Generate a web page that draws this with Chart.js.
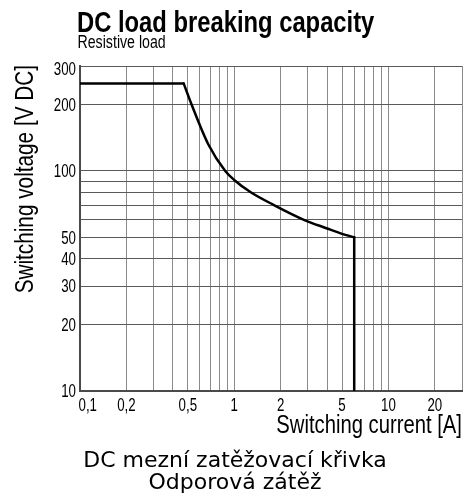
<!DOCTYPE html>
<html>
<head>
<meta charset="utf-8">
<script src="https://cdn.jsdelivr.net/npm/chart.js@4/dist/chart.umd.min.js"></script>
<style>
  html, body { margin: 0; padding: 0; background: #fff; }
  #wrap { position: relative; width: 470px; height: 504px; }
  canvas { display: block; }
</style>
</head>
<body>
<div id="wrap"><canvas id="c" width="470" height="504"></canvas></div>
<script>
// ---- data ----
const flatCurrent = [0.1, 0.47];
const flatVoltage = [250, 250];
const curveCurrent = [0.47, 0.53, 0.68, 0.875, 1.0, 1.28, 1.81, 2.83, 4, 5, 6];
const curveVoltage = [250, 200, 132, 100, 91, 80, 70, 60, 54.8, 51.8, 50];
const dropCurrent = [6, 6];
const dropVoltage = [50, 10];

// grid (tick) positions of the log axes
const xGridValues = [0.1, 0.2, 0.3, 0.4, 0.5, 0.6, 0.7, 0.8, 0.9, 1, 2, 3, 4, 5, 6, 7, 8, 9, 10, 20, 30];
const yGridValues = [10, 20, 30, 40, 50, 60, 70, 80, 90, 100, 200, 300];

const xTickValues = [0.1, 0.2, 0.5, 1, 2, 5, 10, 20];
const xTickTexts = ['0,1', '0,2', '0,5', '1', '2', '5', '10', '20'];
const yTickValues = [10, 20, 30, 40, 50, 100, 200, 300];
const yTickTexts = ['10', '20', '30', '40', '50', '100', '200', '300'];

const titleText = 'DC load breaking capacity';
const subtitleText = 'Resistive load';
const xAxisTitle = 'Switching current [A]';
const yAxisTitle = 'Switching voltage [V DC]';
const caption1 = 'DC mezní zatěžovací křivka';
const caption2 = 'Odporová zátěž';

const SANS = "'Liberation Sans', Arial, sans-serif";

function toPoints(xs, ys) { return xs.map((x, i) => ({ x: x, y: ys[i] })); }

// draw text horizontally condensed by factor sx
function narrowText(ctx, text, x, y, font, sx, align, rot) {
  ctx.save();
  ctx.font = font;
  ctx.textBaseline = 'alphabetic';
  ctx.textAlign = align;
  ctx.translate(x, y);
  if (rot) ctx.rotate(rot);
  ctx.scale(sx, 1);
  ctx.fillText(text, 0, 0);
  ctx.restore();
}

const textPlugin = {
  id: 'texts',
  afterDraw(chart) {
    const ctx = chart.ctx;
    const xs = chart.scales.x, ys = chart.scales.y;
    const area = chart.chartArea;
    ctx.save();
    ctx.fillStyle = '#000';
    // headline
    narrowText(ctx, titleText, 77, 31.5, 'bold 29px ' + SANS, 0.82, 'left');
    narrowText(ctx, subtitleText, 77.5, 47.5, '17.5px ' + SANS, 0.81, 'left');
    // x tick labels
    const tickFont = '17.5px ' + SANS;
    xTickValues.forEach((v, i) => {
      const px = xs.getPixelForValue(v);
      const atStart = Math.abs(v - xs.min) < 1e-9;
      narrowText(ctx, xTickTexts[i], atStart ? px - 1.5 : px, area.bottom + 20, tickFont, 0.76, atStart ? 'left' : 'center');
    });
    // y tick labels
    yTickValues.forEach((v, i) => {
      const py = ys.getPixelForValue(v);
      const base = Math.max(py + 6.3, area.top + 9);
      narrowText(ctx, yTickTexts[i], area.left - 4, base, tickFont, 0.76, 'right');
    });
    // axis titles
    narrowText(ctx, xAxisTitle, area.right, 432.7, '25px ' + SANS, 0.81, 'right');
    narrowText(ctx, yAxisTitle, 33, area.top - 1, '25px ' + SANS, 0.83, 'right', -Math.PI / 2);
    // captions
    ctx.textAlign = 'center';
    ctx.textBaseline = 'alphabetic';
    ctx.font = "22px 'DejaVu Sans', sans-serif";
    ctx.fillText(caption1, 235, 466.5);
    ctx.fillText(caption2, 235, 488.5);
    ctx.restore();
  }
};

const lineStyle = {
  borderColor: '#000',
  borderWidth: 2.5,
  pointRadius: 0,
  fill: false,
  borderCapStyle: 'round',
  borderJoinStyle: 'round'
};

new Chart(document.getElementById('c'), {
  type: 'line',
  data: {
    datasets: [
      Object.assign({ data: toPoints(flatCurrent, flatVoltage), tension: 0 }, lineStyle),
      Object.assign({ data: toPoints(curveCurrent, curveVoltage), cubicInterpolationMode: 'monotone' }, lineStyle),
      Object.assign({ data: toPoints(dropCurrent, dropVoltage), tension: 0, borderWidth: 3 }, lineStyle)
    ]
  },
  options: {
    responsive: false,
    animation: false,
    devicePixelRatio: 1,
    layout: { padding: { top: 66, right: 8, bottom: 65, left: 0 } },
    plugins: { legend: { display: false }, tooltip: { enabled: false } },
    scales: {
      x: {
        type: 'logarithmic',
        min: 0.1,
        max: 30,
        afterBuildTicks(scale) { scale.ticks = xGridValues.map(v => ({ value: v })); },
        afterFit(scale) { scale.height = 48; },
        grid: { color: '#8a8a8a', lineWidth: 1, drawTicks: false },
        border: { color: '#4a4a4a', width: 2 },
        ticks: { autoSkip: false, display: false },
        title: { display: false }
      },
      y: {
        type: 'logarithmic',
        min: 10,
        max: 300,
        afterBuildTicks(scale) { scale.ticks = yGridValues.map(v => ({ value: v })); },
        afterFit(scale) { scale.width = 80; },
        grid: { color: '#5a5a5a', lineWidth: 1, drawTicks: false },
        border: { color: '#4a4a4a', width: 2 },
        ticks: { autoSkip: false, display: false },
        title: { display: false }
      }
    }
  },
  plugins: [textPlugin]
});
</script>
</body>
</html>
